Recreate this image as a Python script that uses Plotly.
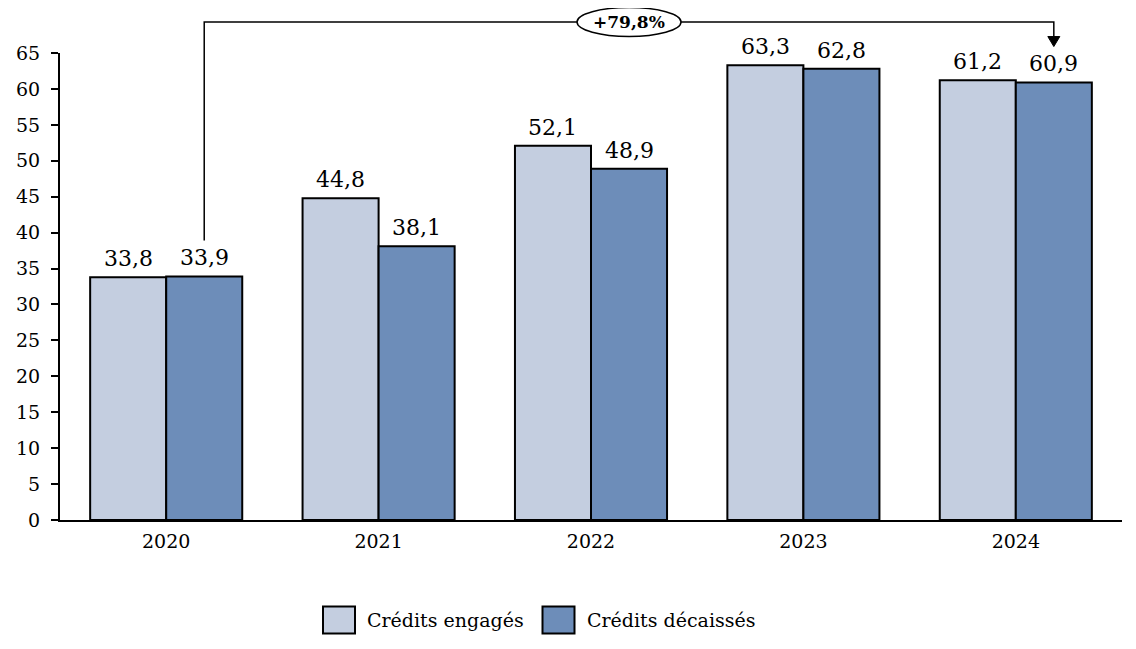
import plotly.graph_objects as go

years = ["2020", "2021", "2022", "2023", "2024"]
engages = [33.8, 44.8, 52.1, 63.3, 61.2]
decaisses = [33.9, 38.1, 48.9, 62.8, 60.9]
names = ["Crédits engagés", "Crédits décaissés"]
colors = ["#C4CEE0", "#6D8DB9"]
growth_label = "+79,8%"
yticks = list(range(0, 70, 5))

FONT = "DejaVu Serif"
YMAX = 65
BARGAP = 0.284

def fmt(v):
    return f"{v:.1f}".replace(".", ",")

fig = go.Figure()
for vals, name, col in zip([engages, decaisses], names, colors):
    fig.add_trace(go.Bar(
        x=years, y=vals, name=name,
        marker=dict(color=col, line=dict(color="black", width=2)),
        showlegend=False,
    ))

n = len(years)
bar_w = (1 - BARGAP) / 2
def xp(idx, series):
    off = (series - 0.5) * bar_w
    return (idx + 0.5 + off) / n

plot_h = 467.0
plot_w = 1062.0
def yp_px(dpx):
    return 1 + dpx / plot_h

annotations = []
for s, vals in enumerate([engages, decaisses]):
    for i, v in enumerate(vals):
        annotations.append(dict(xref="x", yref="y", x=i + (s - 0.5) * bar_w, y=v,
                                xanchor="center", yanchor="bottom", yshift=4,
                                text=fmt(v), showarrow=False,
                                font=dict(family=FONT, size=22, color="black")))

x0 = xp(0, 1)
x1 = xp(n - 1, 1)
y_top = yp_px(31)
y_start = (decaisses[0] + 5) / YMAX
y_tip = (decaisses[-1] + 5) / YMAX
head_h = 10 / plot_h
head_w = 6 / plot_w

shapes = [
    dict(type="path", xref="paper", yref="paper",
         path=f"M {x0} {y_start} L {x0} {y_top} L {x1} {y_top} L {x1} {y_tip + head_h}",
         line=dict(color="black", width=1.5)),
    dict(type="path", xref="paper", yref="paper",
         path=f"M {x1 - head_w} {y_tip + head_h} L {x1 + head_w} {y_tip + head_h} L {x1} {y_tip} Z",
         fillcolor="black", line=dict(color="black", width=1)),
]
xc = (x0 + x1) / 2
ew = 52 / plot_w
eh = 14.5 / plot_h
shapes.append(dict(type="circle", xref="paper", yref="paper",
                   x0=xc - ew, x1=xc + ew, y0=y_top - eh, y1=y_top + eh,
                   fillcolor="white", line=dict(color="black", width=1.5)))

annotations.append(dict(xref="paper", yref="paper", x=xc, y=y_top, xanchor="center", yanchor="middle",
                        text=f"<b>{growth_label}</b>", showarrow=False,
                        font=dict(family=FONT, size=17, color="black")))

leg_y = (520 - 620) / plot_h
sq_h = 13.5 / plot_h
sq_w = 16 / plot_w
leg_x = [(339 - 60) / plot_w, (558.5 - 60) / plot_w]
for lx, name, col in zip(leg_x, names, colors):
    shapes.append(dict(type="rect", xref="paper", yref="paper",
                       x0=lx - sq_w, x1=lx + sq_w, y0=leg_y - sq_h, y1=leg_y + sq_h,
                       fillcolor=col, line=dict(color="black", width=2)))
    annotations.append(dict(xref="paper", yref="paper", x=lx + sq_w + 10 / plot_w, y=leg_y,
                            xanchor="left", yanchor="middle", text=name, showarrow=False,
                            font=dict(family=FONT, size=19, color="black")))

fig.update_layout(
    width=1136, height=649,
    margin=dict(l=52, r=22, t=45, b=137),
    plot_bgcolor="white", paper_bgcolor="white",
    barmode="group", bargap=BARGAP, bargroupgap=0,
    font=dict(family=FONT, size=19, color="black"),
    shapes=shapes, annotations=annotations,
    showlegend=False,
)
fig.update_xaxes(showline=True, linecolor="black", linewidth=2, ticks="",
                 tickfont=dict(family=FONT, size=19), showgrid=False,
                 ticklabelstandoff=3, automargin=False)
fig.update_yaxes(range=[0, YMAX], tickvals=yticks, showline=True, linecolor="black",
                 linewidth=2, ticks="outside", ticklen=7, tickwidth=2, tickcolor="black",
                 tickfont=dict(family=FONT, size=19), showgrid=False, zeroline=False,
                 ticklabelstandoff=7, automargin=False)

fig.write_html("out.html")
